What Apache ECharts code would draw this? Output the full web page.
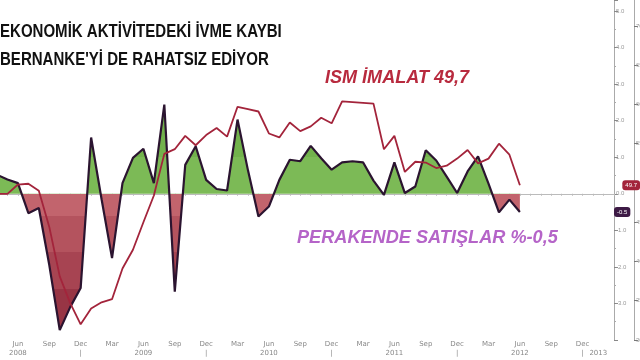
<!DOCTYPE html>
<html><head><meta charset="utf-8">
<script src="https://cdn.jsdelivr.net/npm/echarts@6/dist/echarts.min.js"></script>
<style>html,body{margin:0;padding:0;background:#fff}#c{width:640px;height:360px}</style>
</head><body><div id="c"></div>
<script>
const months = [
 '2008-04','2008-05','2008-06','2008-07','2008-08','2008-09','2008-10','2008-11','2008-12',
 '2009-01','2009-02','2009-03','2009-04','2009-05','2009-06','2009-07','2009-08','2009-09','2009-10','2009-11','2009-12',
 '2010-01','2010-02','2010-03','2010-04','2010-05','2010-06','2010-07','2010-08','2010-09','2010-10','2010-11','2010-12',
 '2011-01','2011-02','2011-03','2011-04','2011-05','2011-06','2011-07','2011-08','2011-09','2011-10','2011-11','2011-12',
 '2012-01','2012-02','2012-03','2012-04','2012-05','2012-06','2012-07','2012-08','2012-09','2012-10','2012-11','2012-12',
 '2013-01','2013-02','2013-03'
];
// Retail sales, monthly % change (Apr 2008 - Jun 2012)
const retailSales = [
 0.52, 0.39, 0.29, -0.53, -0.39, -1.95, -3.73, -3.10, -2.58,
 1.54, -0.15, -1.76, 0.29, 0.98, 1.23, 0.29, 2.44, -2.68, 0.79, 1.30, 0.38,
 0.13, 0.09, 2.03, 0.64, -0.62, -0.35, 0.38, 0.93, 0.89, 1.31, 0.97, 0.66,
 0.86, 0.89, 0.86, 0.36, -0.03, 0.86, 0.02, 0.20, 1.19, 0.91, 0.47, 0.02,
 0.61, 1.02, 0.28, -0.51, -0.16, -0.50
];
// ISM manufacturing index (Apr 2008 - Jun 2012)
const ismIndex = [
 48.6, 48.6, 49.8, 49.9, 49.0, 44.4, 38.1, 34.7, 32.0,
 34.0, 34.8, 35.2, 39.1, 41.5, 45.0, 48.4, 53.7, 54.3, 56.0, 54.8, 56.1,
 57.0, 55.9, 59.7, 59.4, 59.1, 56.3, 55.8, 57.7, 56.6, 57.2, 58.3, 57.6,
 60.4, 60.3, 60.2, 60.1, 54.3, 56.0, 51.4, 52.7, 52.6, 51.9, 52.2, 53.1,
 54.2, 52.5, 53.1, 55.0, 53.6, 49.7
];
const monthNames = {'03':'Mar','06':'Jun','09':'Sep','12':'Dec'};
const titleText = "EKONOMİK AKTİVİTEDEKİ İVME KAYBI\nBERNANKE'Yİ DE RAHATSIZ EDİYOR";
const ismText = 'ISM İMALAT 49,7';
const retailText = 'PERAKENDE SATIŞLAR %-0,5';
const lastRetail = retailSales[retailSales.length - 1];
const lastIsm = ismIndex[ismIndex.length - 1];
const lastMonth = months[months.length - 1];
const lastDec = '2012-12';

const chart = echarts.init(document.getElementById('c'));
const sans = '"Liberation Sans",Arial,sans-serif';
const lbl = {fontSize: 7, color: '#888', lineHeight: 8.5, fontFamily: 'DejaVu Sans'};
chart.setOption({
  animation: false,
  backgroundColor: '#fff',
  graphic: [
    {type: 'text', left: 0, top: 18, scaleX: 0.835, z: 10,
     style: {text: titleText, fontFamily: sans, fontSize: 18, fontWeight: 'bold', fill: '#111', lineHeight: 28}},
    {type: 'text', left: 325, top: 66, scaleX: 0.95, z: 10,
     style: {text: ismText, fontFamily: sans, fontSize: 19, fontWeight: 'bold', fontStyle: 'italic', fill: '#b82a3e', lineHeight: 24}},
    {type: 'text', left: 297, top: 226, scaleX: 0.955, z: 10,
     style: {text: retailText, fontFamily: sans, fontSize: 19, fontWeight: 'bold', fontStyle: 'italic', fill: '#b564c8', lineHeight: 24}}
  ],
  grid: {left: -3, right: 26, top: 0, bottom: 20, containLabel: false, outerBoundsMode: 'none'},
  xAxis: {
    type: 'category', data: months, boundaryGap: false,
    axisLine: {lineStyle: {color: '#bbb', width: 1}},
    axisTick: {show: true, interval: 0, length: 2, lineStyle: {color: '#bbb'}},
    axisLabel: Object.assign({}, lbl, {
      margin: 0, showMinLabel: true, showMaxLabel: true,
      interval: (i, v) => v === lastMonth || !!monthNames[v.slice(5)],
      formatter: v => {
        const mm = v.slice(5), yy = v.slice(0, 4);
        if (v === lastMonth) return ' ';
        if (mm === '06') return 'Jun\n' + yy;
        if (mm === '12') {
          return v === lastDec
            ? 'Dec\n{sp|}|{yr|' + String(Number(yy) + 1) + '}'
            : 'Dec\n|';
        }
        return monthNames[mm];
      },
      rich: {
        sp: Object.assign({}, lbl, {width: 24}),
        yr: Object.assign({}, lbl, {width: 19, padding: [0, 0, 0, 5], align: 'left'})
      }
    }),
    splitLine: {show: false}
  },
  yAxis: [
    {type: 'value', position: 'right', min: -4, max: 5.3, interval: 1,
     axisLine: {show: true, lineStyle: {color: '#aaa'}},
     axisTick: {show: true, length: 4, lineStyle: {color: '#888'}},
     minorTick: {show: true, splitNumber: 2, length: 2, lineStyle: {color: '#aaa'}},
     axisLabel: {fontSize: 6, color: '#999', margin: 2, showMinLabel: false, showMaxLabel: false,
       formatter: v => v.toFixed(1)},
     splitLine: {show: false},
     axisPointer: {show: true, type: 'none', value: lastRetail, status: 'show', triggerTooltip: false,
       label: {show: true, formatter: () => lastRetail.toFixed(1), backgroundColor: '#3d1a45', color: '#fff',
         fontSize: 6, padding: [2, 3], margin: 0}}
    },
    {type: 'value', position: 'right', offset: 20, min: 30, max: 73.3, interval: 5,
     axisLine: {show: true, lineStyle: {color: '#aaa'}},
     axisTick: {show: true, length: 4, lineStyle: {color: '#777'}},
     axisLabel: {fontSize: 6, color: '#999', margin: 2, showMaxLabel: false},
     splitLine: {show: false},
     axisPointer: {show: true, type: 'none', value: lastIsm, status: 'show', triggerTooltip: false,
       label: {show: true, formatter: () => lastIsm.toFixed(1), backgroundColor: '#a3243b', color: '#fff',
         fontSize: 6, padding: [2, 3], margin: 0}}
    }
  ],
  visualMap: {
    type: 'piecewise', show: false, seriesIndex: 0, dimension: 1,
    pieces: [
      {gt: 1, color: '#72b24c'},
      {gt: 0, lte: 1, color: '#7cba56'},
      {gt: -0.6, lte: 0, color: '#c2646d'},
      {gt: -1.6, lte: -0.6, color: '#b4535e'},
      {gt: -2.6, lte: -1.6, color: '#a74452'},
      {lte: -2.6, color: '#983545'}
    ]
  },
  series: [
    {type: 'line', data: retailSales, yAxisIndex: 0, symbol: 'none', silent: true, z: 1,
     lineStyle: {width: 0}, areaStyle: {opacity: 1}},
    {type: 'line', data: retailSales, yAxisIndex: 0, symbol: 'none', silent: true, z: 2,
     lineStyle: {color: '#2b1430', width: 2.2}, itemStyle: {color: '#2b1430'}},
    {type: 'line', data: ismIndex, yAxisIndex: 1, symbol: 'none', silent: true, z: 3,
     lineStyle: {color: '#a3243b', width: 1.8}, itemStyle: {color: '#a3243b'}}
  ]
});
</script>
</body></html>
